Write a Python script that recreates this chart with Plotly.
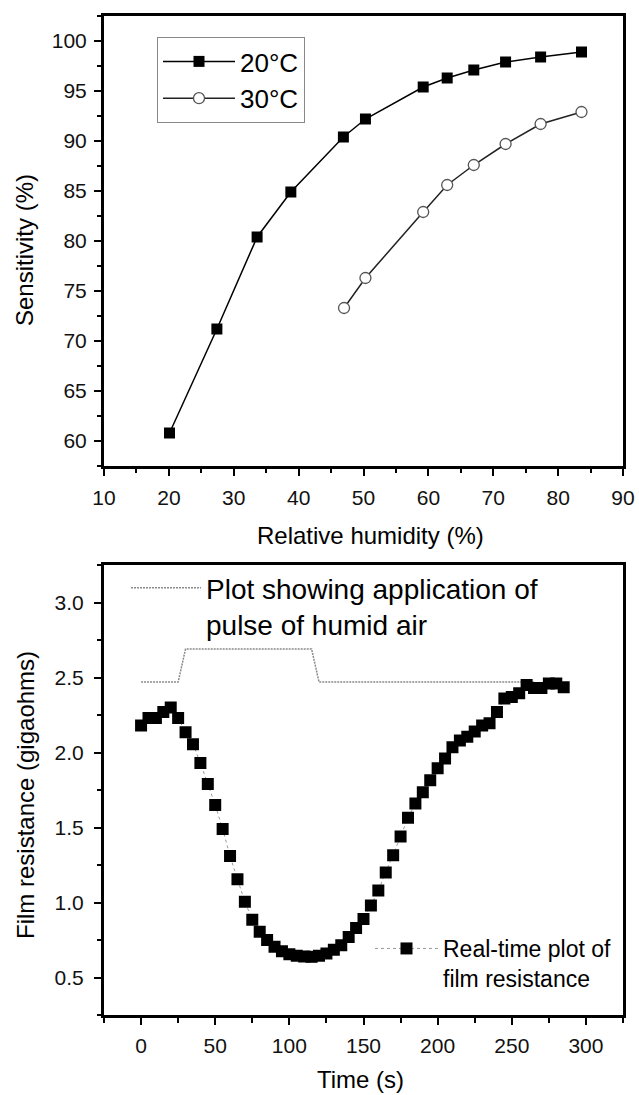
import plotly.graph_objects as go

# ---------------- data: top panel (sensitivity vs relative humidity) -------------
rh_20 = [20.1, 27.4, 33.6, 38.8, 46.9, 50.3, 59.2, 62.9, 67.0, 71.9, 77.3, 83.6]
sens_20 = [60.8, 71.2, 80.4, 84.9, 90.4, 92.2, 95.4, 96.3, 97.1, 97.9, 98.4, 98.9]
rh_30 = [47.0, 50.3, 59.2, 62.9, 67.0, 71.9, 77.3, 83.6]
sens_30 = [73.3, 76.3, 82.9, 85.6, 87.6, 89.7, 91.7, 92.9]

# ---------------- data: bottom panel (film resistance vs time) -------------------
time_s = [0, 5, 10, 15, 20, 25, 30, 35, 40, 45, 50, 55, 60, 65, 70, 75, 80, 85, 90,
          95, 100, 105, 110, 115, 120, 125, 130, 135, 140, 145, 150, 155, 160, 165,
          170, 175, 180, 185, 190, 195, 200, 205, 210, 215, 220, 225, 230, 235, 240,
          245, 250, 255, 260, 265, 270, 275, 280, 285]
resistance = [2.18, 2.23, 2.23, 2.27, 2.30, 2.23, 2.135, 2.055, 1.93, 1.79, 1.65, 1.49,
              1.31, 1.155, 1.005, 0.885, 0.805, 0.75, 0.705, 0.675, 0.655, 0.645, 0.64,
              0.638, 0.645, 0.66, 0.685, 0.715, 0.77, 0.83, 0.89, 0.98, 1.08, 1.20,
              1.315, 1.44, 1.565, 1.66, 1.735, 1.815, 1.895, 1.96, 2.035, 2.08, 2.105,
              2.14, 2.18, 2.195, 2.27, 2.36, 2.37, 2.395, 2.45, 2.43, 2.43, 2.46, 2.46,
              2.435]
pulse_t = [0, 25, 30, 115, 120, 265]
pulse_r = [2.47, 2.47, 2.69, 2.69, 2.47, 2.47]

top_xticks = [10, 20, 30, 40, 50, 60, 70, 80, 90]
top_yticks = [60, 65, 70, 75, 80, 85, 90, 95, 100]
bot_xticks = [0, 50, 100, 150, 200, 250, 300]
bot_yticks = [0.5, 1.0, 1.5, 2.0, 2.5, 3.0]

FONT = "Liberation Sans, Arial, sans-serif"
W, H = 639, 1095

fig = go.Figure()

fig.add_trace(go.Scatter(
    x=rh_20, y=sens_20, name="20°C", mode="lines+markers",
    line=dict(color="black", width=1.5),
    marker=dict(symbol="square", size=11, color="black"),
    xaxis="x", yaxis="y", legend="legend", legendgroup="a"))
fig.add_trace(go.Scatter(
    x=rh_30, y=sens_30, name="30°C", mode="lines+markers",
    line=dict(color="#222", width=1.5),
    marker=dict(symbol="circle", size=11, color="white",
                line=dict(color="#555", width=1.3)),
    xaxis="x", yaxis="y", legend="legend", legendgroup="b"))

fig.add_trace(go.Scatter(
    x=pulse_t, y=pulse_r, name="Plot showing application of<br>pulse of humid air",
    mode="lines", line=dict(color="#8a8a8a", width=1.5, dash="2px,1px"),
    xaxis="x2", yaxis="y2", legend="legend2"))
fig.add_trace(go.Scatter(
    x=time_s, y=resistance, name="Real-time plot of<br>film resistance",
    mode="lines+markers", line=dict(color="#9a9a9a", width=1, dash="dot"),
    marker=dict(symbol="square", size=12, color="black"),
    xaxis="x2", yaxis="y2", legend="legend3"))

x_dom = [104 / W, 623 / W]
top_dom = [1 - 466 / H, 1 - 16 / H]
bot_dom = [1 - 1015 / H, 1 - 565 / H]

axis_common = dict(
    showline=True, linecolor="black", linewidth=3, mirror=True,
    ticks="outside", ticklen=7, tickwidth=1.5, tickcolor="black",
    showgrid=False, zeroline=False, automargin=False,
    tickfont=dict(family=FONT, size=21, color="#111"),
)


def ann(text, x, y, angle=0):
    return dict(text=text, x=x / W, y=1 - y / H, xref="paper", yref="paper",
                xanchor="center", yanchor="middle", showarrow=False,
                textangle=angle, font=dict(family=FONT, size=24, color="black"))


fig.update_layout(
    width=W, height=H,
    margin=dict(l=0, r=0, t=0, b=0),
    paper_bgcolor="white", plot_bgcolor="white",
    font=dict(family=FONT, color="black"),
    xaxis=dict(domain=x_dom, anchor="y", range=[10, 90], tickvals=top_xticks,
               minor=dict(dtick=5, ticks="outside", ticklen=4, tickcolor="black"),
               ticklabelstandoff=4, **axis_common),
    yaxis=dict(domain=top_dom, anchor="x", range=[57.5, 102.5], tickvals=top_yticks,
               minor=dict(dtick=2.5, ticks="outside", ticklen=4, tickcolor="black"),
               ticklabelstandoff=3, **axis_common),
    xaxis2=dict(domain=x_dom, anchor="y2", range=[-25, 325], tickvals=bot_xticks,
                minor=dict(dtick=25, ticks="outside", ticklen=5, tickcolor="black"),
                ticklabelstandoff=3, **axis_common),
    yaxis2=dict(domain=bot_dom, anchor="x2", range=[0.25, 3.25], tickvals=bot_yticks,
                tickformat=".1f",
                minor=dict(dtick=0.25, ticks="outside", ticklen=4, tickcolor="black"),
                ticklabelstandoff=6, **axis_common),
    legend=dict(x=157 / W, y=1 - 37 / H, xanchor="left", yanchor="top",
                bordercolor="#888", borderwidth=1, bgcolor="white",
                font=dict(family=FONT, size=26, color="black"),
                itemwidth=72, tracegroupgap=3, traceorder="normal"),
    legend2=dict(x=126 / W, y=1 - 563 / H, xanchor="left", yanchor="top",
                 borderwidth=0, bgcolor="rgba(0,0,0,0)", valign="top",
                 font=dict(family=FONT, size=28, color="black"), itemwidth=70),
    legend3=dict(x=370 / W, y=1 - 927 / H, xanchor="left", yanchor="top",
                 borderwidth=0, bgcolor="rgba(0,0,0,0)", valign="top",
                 font=dict(family=FONT, size=23, color="black"), itemwidth=63),
    annotations=[
        ann("Relative humidity (%)", 370, 535),
        ann("Sensitivity (%)", 24, 250, -90),
        ann("Time (s)", 360, 1079),
        ann("Film resistance (gigaohms)", 25, 795, -90),
    ],
)

fig.write_html("out.html", config={"displayModeBar": False},
               post_script="document.body.style.margin='0px';"
                           "document.body.style.overflow='hidden';")
